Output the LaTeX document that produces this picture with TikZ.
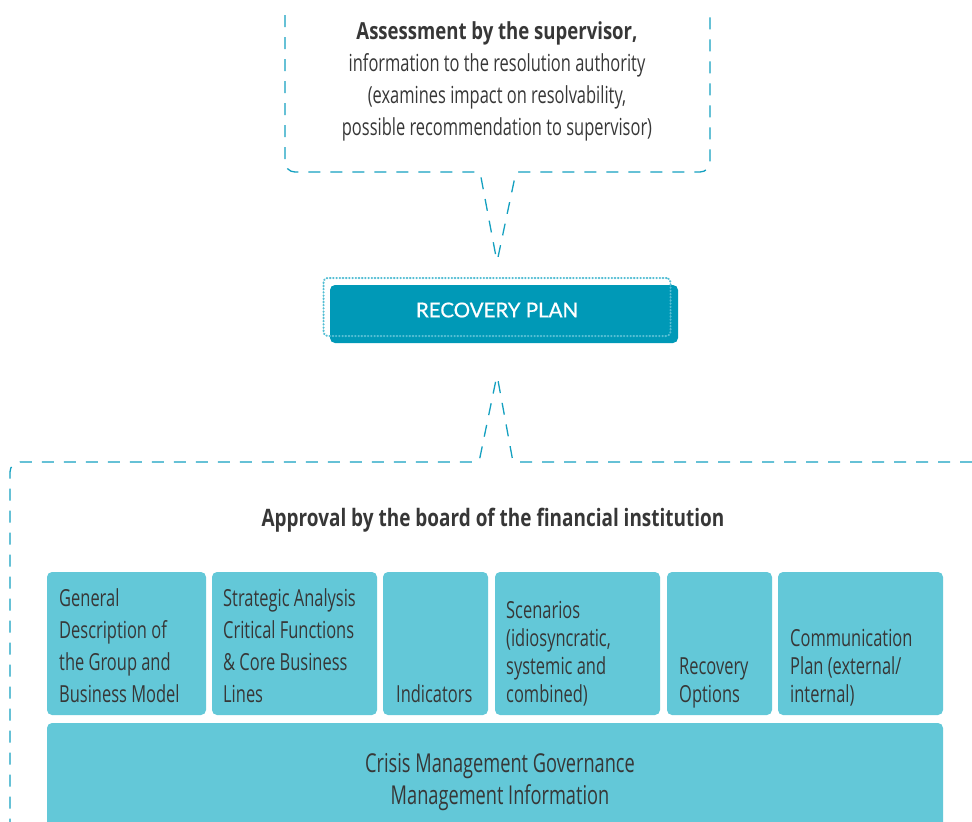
\documentclass[tikz,border=0pt]{standalone}
\usepackage{fontspec}
\setmainfont{Open Sans}[FakeStretch=0.70]
\newfontfamily\headfont{Open Sans}[FakeStretch=0.79]
\newfontfamily\planfont{Lato}[FakeBold=0.6]

\definecolor{dashblue}{RGB}{20,160,192}
\definecolor{plandark}{RGB}{0,153,183}
\definecolor{planring}{RGB}{85,190,212}
\definecolor{celllight}{RGB}{99,200,216}
\definecolor{inkgrey}{RGB}{55,55,55}

\newcommand\cellstack[1]{\begin{tabular}[b]{@{}l@{}}#1\end{tabular}}

\begin{document}
\begin{tikzpicture}[x=1pt,y=-1pt,
    callout/.style={dashblue, line width=1.3pt, dash pattern=on 12pt off 10pt},
    cell/.style={fill=celllight, rounded corners=5pt, inner sep=0pt, outer sep=0pt, anchor=north west, minimum height=143pt},
    celltext/.style={inner sep=0pt, anchor=base west, text=inkgrey, font=\fontsize{23.5}{32}\selectfont},
    tightcell/.style={celltext, font=\fontsize{23.5}{28}\selectfont}]
  \useasboundingbox (0,0) rectangle (972,822);

  \draw[callout] (285,15) [rounded corners=10pt] -- (285,172) [rounded corners=3pt] -- (480,172) -- (497,262)
    -- (516,172) [rounded corners=10pt] -- (710,172) -- (710,15);
  \node[anchor=north, align=center, inner sep=0pt, text=inkgrey, font=\fontsize{23.5}{32}\selectfont] (assess) at (497,21)
    {{\headfont\bfseries\fontsize{23.5}{30}\selectfont Assessment by the supervisor,}\\ information to the resolution authority\\
     (examines impact on resolvability,\\ possible recommendation to supervisor)};

  \node[fill=plandark, rounded corners=5pt, minimum width=348pt, minimum height=58pt, inner sep=0pt] (plan) at (504,314) {};
  \node[draw=planring, line width=2pt, dash pattern=on 0.6pt off 2.6pt, line cap=round, rounded corners=4pt,
    minimum width=347pt, minimum height=58pt, inner sep=0pt] (ring) at (497,307) {};
  \node[text=white, font=\planfont\fontsize{20.5}{22}\selectfont] (plantxt) at (497,310) {RECOVERY PLAN};

  \draw[callout] (972,462) [rounded corners=3pt] -- (513,462) -- (497,375) -- (479,462) [rounded corners=10pt]
    -- (10,462) -- (10,822);
  \node[text=inkgrey, font=\headfont\bfseries\fontsize{24}{28}\selectfont] (approve) at (493,520)
    {Approval by the board of the financial institution};

  \node[cell, minimum width=159pt] (gen) at (47,572) {};
  \node[cell, minimum width=165pt] (strat) at (212,572) {};
  \node[cell, minimum width=105pt] (ind) at (383,572) {};
  \node[cell, minimum width=165pt] (scen) at (495,572) {};
  \node[cell, minimum width=105pt] (ropt) at (667,572) {};
  \node[cell, minimum width=165pt] (comm) at (778,572) {};
  \node[cell, minimum width=896pt, minimum height=120pt] (crisis) at (47,723) {};

  \node[celltext] (gentxt) at ([xshift=12pt,yshift=13pt]gen.south west)
    {\cellstack{General\\ Description of\\ the Group and\\ Business Model}};
  \node[celltext] (strattxt) at ([xshift=11pt,yshift=13pt]strat.south west)
    {\cellstack{Strategic Analysis\\ Critical Functions\\ \& Core Business\\ Lines}};
  \node[celltext] (indtxt) at ([xshift=13pt,yshift=13pt]ind.south west) {\cellstack{Indicators}};
  \node[tightcell] (scentxt) at ([xshift=11pt,yshift=13pt]scen.south west)
    {\cellstack{Scenarios\\ (idiosyncratic,\\ systemic and\\ combined)}};
  \node[tightcell] (sopttxt) at ([xshift=12pt,yshift=13pt]ropt.south west) {\cellstack{Recovery\\ Options}};
  \node[tightcell] (commtxt) at ([xshift=12pt,yshift=13pt]comm.south west)
    {\cellstack{Communication\\ Plan (external/\\ internal)}};
  \node[align=center, text=inkgrey, font=\fontsize{26}{32}\selectfont] (crisistxt) at (500,782)
    {Crisis Management Governance\\ Management Information};
\end{tikzpicture}
\end{document}
